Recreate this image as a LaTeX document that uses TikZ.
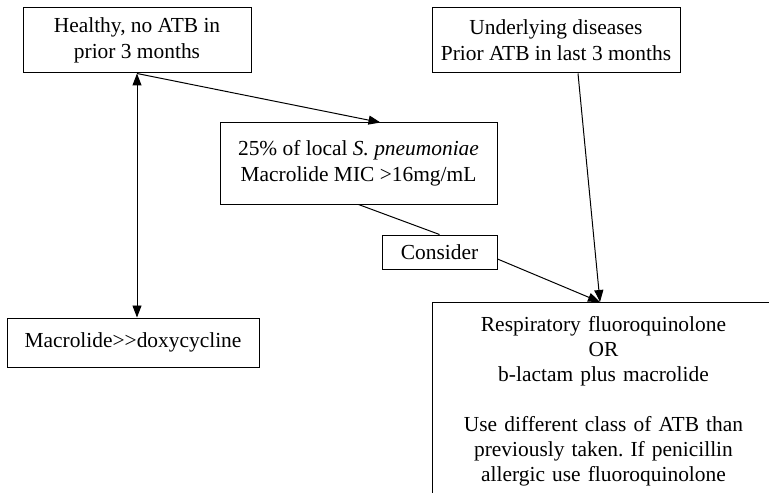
\documentclass[tikz,border=0pt]{standalone}
\usepackage{fontspec}
\setmainfont{Liberation Serif}
\usetikzlibrary{arrows.meta,calc}
\tikzset{
  box/.style={draw=black,line width=1pt,fill=white,align=center,font=\fontsize{21.5}{26}\selectfont,inner sep=0pt},
  arr/.style={-{Triangle[length=12bp,width=9bp]},draw=black,line width=1pt},
  link/.style={draw=black,line width=1pt}
}
\begin{document}
\begin{tikzpicture}[x=1bp,y=-1bp]
\useasboundingbox (0,0) rectangle (769,493);
\clip (0,0) rectangle (769,493);
\fill[white] (0,0) rectangle (769,493);
\node[box,minimum width=228bp,minimum height=65bp] (healthy) at (137,40.5) {Healthy, no ATB in\\prior 3 months};
\node[box,minimum width=248bp,minimum height=65bp] (under) at (556,40.5) {Underlying diseases\\Prior ATB in last 3 months};
\node[box,minimum width=277bp,minimum height=81bp] (pct) at (358.5,163.5) {25\% of local \textit{S. pneumoniae}\\Macrolide MIC >16mg/mL};
\node[box,minimum width=115bp,minimum height=34bp] (consider) at (439.5,252) {Consider};
\node[box,minimum width=252bp,minimum height=49bp] (macro) at (133,342.5) {Macrolide>{}>doxycycline};
\node[box,font=\fontsize{21.5}{25}\selectfont,anchor=north west,text width=330bp,inner xsep=6bp,inner ysep=14bp,text depth=220bp] (regimen) at (432,302) {\frenchspacing Respiratory fluoroquinolone\\OR\\b-lactam plus macrolide\\[25bp]Use different class of ATB than\\previously taken. If penicillin\\allergic use fluoroquinolone};
\coordinate (meet) at (600,302);
\draw[arr,{Triangle[length=12bp,width=9bp]}-{Triangle[length=12bp,width=9bp]}] (healthy.south) -- (healthy.south |- macro.north);
\draw[arr] (healthy.south) -- ([xshift=22bp]pct.north);
\draw[link] (pct.south) -- (consider.north);
\draw[arr] ([yshift=-7bp]consider.east) -- (meet);
\draw[arr] ([xshift=22bp]under.south) -- (meet);
\end{tikzpicture}
\end{document}
